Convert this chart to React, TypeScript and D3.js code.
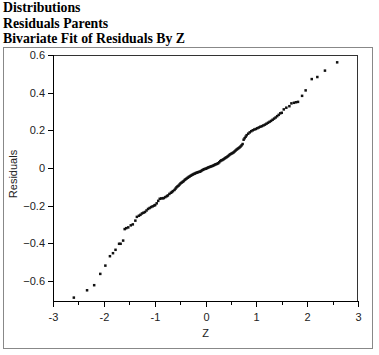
import * as d3 from 'd3';

// normal quantiles (Z) and residuals
const zValues = [
  -2.59, -2.33, -2.19, -2.07, -1.97, -1.88, -1.82, -1.77, -1.70, -1.67, -1.62,
  -1.59, -1.56, -1.52, -1.47, -1.43, -1.38, -1.35, -1.31, -1.28, -1.25, -1.22,
  -1.19, -1.16, -1.13, -1.10, -1.07, -1.04, -1.01, -0.99, -0.96, -0.93, -0.90,
  -0.87, -0.84, -0.82, -0.79, -0.76, -0.74, -0.71, -0.68, -0.66, -0.64, -0.61,
  -0.59, -0.57, -0.55, -0.53, -0.51, -0.49, -0.47, -0.45, -0.43, -0.41, -0.39,
  -0.37, -0.35, -0.33, -0.31, -0.29, -0.27, -0.25, -0.23, -0.21, -0.19, -0.17,
  -0.15, -0.13, -0.11, -0.09, -0.07, -0.05, -0.03, -0.01, 0.01, 0.03, 0.05,
  0.07, 0.09, 0.11, 0.13, 0.15, 0.17, 0.19, 0.21, 0.23, 0.25, 0.27, 0.29, 0.31,
  0.33, 0.35, 0.37, 0.39, 0.41, 0.43, 0.45, 0.47, 0.49, 0.51, 0.53, 0.55, 0.57,
  0.59, 0.61, 0.63, 0.65, 0.67, 0.69, 0.71, 0.73, 0.75, 0.77, 0.79, 0.81, 0.84,
  0.87, 0.90, 0.93, 0.96, 0.99, 1.02, 1.05, 1.08, 1.11, 1.14, 1.17, 1.20, 1.23,
  1.26, 1.29, 1.32, 1.35, 1.38, 1.41, 1.44, 1.47, 1.50, 1.54, 1.59, 1.65, 1.69,
  1.74, 1.78, 1.82, 1.90, 1.97, 2.09, 2.20, 2.35, 2.59,
];

const residuals = [
  -0.689, -0.650, -0.623, -0.563, -0.519, -0.469, -0.453, -0.435, -0.403, -0.403, -0.386,
  -0.325, -0.320, -0.316, -0.305, -0.300, -0.280, -0.260, -0.254, -0.249, -0.242, -0.238,
  -0.234, -0.226, -0.218, -0.213, -0.208, -0.204, -0.200, -0.197, -0.188, -0.175, -0.164,
  -0.162, -0.161, -0.160, -0.155, -0.150, -0.146, -0.138, -0.132, -0.128, -0.123, -0.117,
  -0.110, -0.103, -0.098, -0.094, -0.088, -0.082, -0.078, -0.074, -0.070, -0.064, -0.060,
  -0.056, -0.052, -0.048, -0.045, -0.041, -0.038, -0.035, -0.032, -0.030, -0.027, -0.025,
  -0.023, -0.021, -0.020, -0.017, -0.013, -0.010, -0.007, -0.005, -0.004, -0.001, 0.002,
  0.004, 0.006, 0.008, 0.010, 0.012, 0.015, 0.018, 0.020, 0.022, 0.025, 0.030, 0.036, 0.040,
  0.042, 0.045, 0.049, 0.053, 0.056, 0.060, 0.064, 0.069, 0.073, 0.076, 0.079, 0.082, 0.087,
  0.092, 0.097, 0.101, 0.105, 0.109, 0.114, 0.120, 0.127, 0.150, 0.158, 0.166, 0.174, 0.182,
  0.189, 0.195, 0.200, 0.204, 0.207, 0.211, 0.215, 0.219, 0.222, 0.226, 0.230, 0.235, 0.240,
  0.245, 0.250, 0.256, 0.262, 0.268, 0.275, 0.282, 0.290, 0.293, 0.311, 0.320, 0.328, 0.343,
  0.346, 0.349, 0.351, 0.383, 0.412, 0.472, 0.483, 0.517, 0.561,
];

const titleLines = ['Distributions', 'Residuals Parents', 'Bivariate Fit of Residuals By Z'];
const yTickValues = [-0.6, -0.4, -0.2, 0, 0.2, 0.4, 0.6];
const xTickValues = [-3, -2, -1, 0, 1, 2, 3];
const xMinorTicks = [-2.5, -1.5, -0.5, 0.5, 1.5, 2.5];

const W = 379;
const H = 355;
const plot = { left: 53, top: 55, right: 358, bottom: 301 };
const sans = 'Arial, "Liberation Sans", sans-serif';

export default function App() {
  const x = d3.scaleLinear().domain([-3, 3]).range([plot.left, plot.right]);
  const y = d3.scaleLinear().domain([-0.707, 0.6]).range([plot.bottom, plot.top]);
  const fmt = (v: number) => (v === 0 ? '0' : d3.format('.1f')(v));

  return (
    <svg width={W} height={H} style={{ position: 'absolute', left: 0, top: 0, background: '#fff' }}>
      {titleLines.map((t, i) => (
        <text key={t} x={3} y={12 + i * 15.5} fontFamily='"Liberation Serif", "Times New Roman", serif'
          fontWeight="bold" fontSize={13.8} fill="#000">{t}</text>
      ))}

      {/* outer frame */}
      <rect x={3.5} y={47.5} width={369} height={301} fill="none" stroke="#888" strokeWidth={1} />

      {/* plot frame */}
      <rect x={plot.left + 0.5} y={plot.top + 0.5} width={plot.right - plot.left - 1}
        height={plot.bottom - plot.top} fill="none" stroke="#333" strokeWidth={1} />
      <line x1={plot.left + 0.5} x2={plot.left + 0.5} y1={plot.top} y2={plot.bottom + 0.5} stroke="#000" />
      <line x1={plot.left} x2={plot.right} y1={plot.bottom + 0.5} y2={plot.bottom + 0.5} stroke="#000" />

      {/* y axis */}
      {yTickValues.map(v => (
        <g key={v} transform={`translate(0,${Math.round(y(v)) + 0.5})`}>
          <line x1={plot.left - 5} x2={plot.left} stroke="#000" />
          <text x={plot.left - 8} dy="0.35em" textAnchor="end" fontFamily={sans} fontSize={11} fill="#222">
            {fmt(v)}
          </text>
        </g>
      ))}
      <text transform={`translate(17,${174}) rotate(-90)`} textAnchor="middle" fontFamily={sans}
        fontSize={11} fill="#222">Residuals</text>

      {/* x axis */}
      {xTickValues.map(v => (
        <g key={v} transform={`translate(${Math.round(x(v)) + 0.5},${plot.bottom})`}>
          <line y1={0} y2={6} stroke="#000" />
          <text y={20} textAnchor="middle" fontFamily={sans} fontSize={11} fill="#222">{v}</text>
        </g>
      ))}
      {xMinorTicks.map(v => (
        <line key={v} x1={Math.round(x(v)) + 0.5} x2={Math.round(x(v)) + 0.5}
          y1={plot.bottom} y2={plot.bottom + 4} stroke="#000" />
      ))}
      <text x={x(0)} y={337} textAnchor="middle" fontFamily={sans} fontSize={11} fill="#222">Z</text>

      {/* points */}
      {zValues.map((z, i) => (
        <rect key={i} x={x(z) - 1.25} y={y(residuals[i]) - 1.25} width={2.5} height={2.5} fill="#111" />
      ))}
    </svg>
  );
}
